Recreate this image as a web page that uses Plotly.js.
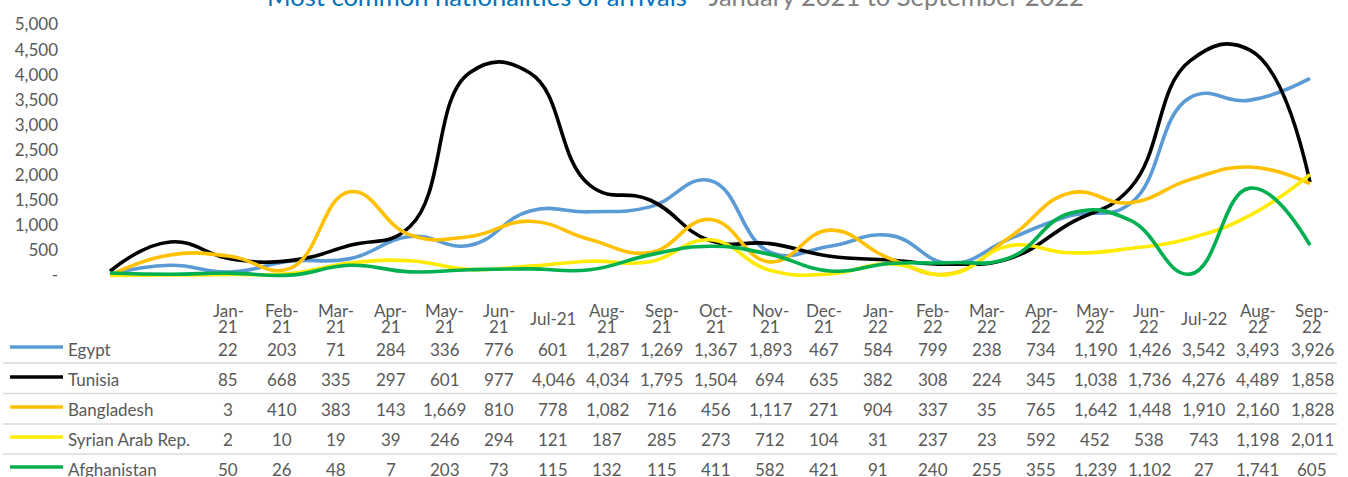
<!DOCTYPE html>
<html><head><meta charset="utf-8">
<script src="https://cdn.plot.ly/plotly-3.0.1.min.js"></script>
<style>html,body{margin:0;padding:0;background:#fff;} #chart{width:1348px;height:477px;}</style>
</head><body><div id="chart"></div>
<script>
const categories = ['Jan-21','Feb-21','Mar-21','Apr-21','May-21','Jun-21','Jul-21','Aug-21','Sep-21','Oct-21','Nov-21','Dec-21','Jan-22','Feb-22','Mar-22','Apr-22','May-22','Jun-22','Jul-22','Aug-22','Sep-22'];
const egypt = [22,203,71,284,336,776,601,1287,1269,1367,1893,467,584,799,238,734,1190,1426,3542,3493,3926];
const tunisia = [85,668,335,297,601,977,4046,4034,1795,1504,694,635,382,308,224,345,1038,1736,4276,4489,1858];
const bangladesh = [3,410,383,143,1669,810,778,1082,716,456,1117,271,904,337,35,765,1642,1448,1910,2160,1828];
const syria = [2,10,19,39,246,294,121,187,285,273,712,104,31,237,23,592,452,538,743,1198,2011];
const afghanistan = [50,26,48,7,203,73,115,132,115,411,582,421,91,240,255,355,1239,1102,27,1741,605];
const seriesNames = ['Egypt','Tunisia','Bangladesh','Syrian Arab Rep.','Afghanistan'];
const seriesValues = [egypt, tunisia, bangladesh, syria, afghanistan];
const seriesColors = ['#5B9BD5','#000000','#FFC000','#FFEB00','#00B050'];
const yTickVals = [0,500,1000,1500,2000,2500,3000,3500,4000,4500,5000];
const yTickText = ['-','500','1,000','1,500','2,000','2,500','3,000','3,500','4,000','4,500','5,000'];
const titleMain = 'Most common nationalities of arrivals';
const titleSub = ' - January 2021 to September 2022';

const W = 1348, H = 477;
const FONT = 'Lato, "Open Sans", sans-serif';
const GREY = '#595959';
const px = p => p / W;
const py = p => 1 - p / H;

// plot geometry (pixels)
const firstPtX = 110, ptStep = 60, plotLeft = 59, plotRight = 1322;
const zeroY = 275.5, perUnit = 50.2 / 1000, plotTop = 20, plotBottom = 283;

const xs = categories.map((c, i) => i);
const traces = seriesValues.map((vals, k) => ({
  type: 'scatter', mode: 'lines', x: xs, y: vals, name: seriesNames[k],
  line: {color: seriesColors[k], width: 3.6, shape: 'spline', smoothing: 1.3},
  hoverinfo: 'skip', showlegend: false
}));

const annotations = [];
const shapes = [];
// title
annotations.push({
  xref: 'paper', yref: 'paper', x: px(675), y: py(13), xanchor: 'center', yanchor: 'bottom',
  showarrow: false,
  text: '<span style="color:#0072BC">' + titleMain + '</span><span style="color:#808080">' + titleSub + '</span>',
  font: {family: FONT, size: 25.5}
});
// table
const colX = i => px(228 + 54.2 * i);
categories.forEach((c, i) => {
  if (c.startsWith('Jul')) {
    annotations.push({xref:'paper', yref:'paper', x: colX(i), y: py(318), xanchor:'center', yanchor:'middle', showarrow:false, text: c, font:{family:FONT, size:17, color:GREY}});
  } else {
    const parts = c.split('-');
    annotations.push({xref:'paper', yref:'paper', x: colX(i), y: py(310), xanchor:'center', yanchor:'middle', showarrow:false, text: parts[0] + '-', font:{family:FONT, size:17, color:GREY}});
    annotations.push({xref:'paper', yref:'paper', x: colX(i), y: py(326), xanchor:'center', yanchor:'middle', showarrow:false, text: parts[1], font:{family:FONT, size:17, color:GREY}});
  }
});
const rowY = [349, 379, 409, 439, 469];
seriesValues.forEach((vals, r) => {
  annotations.push({xref:'paper', yref:'paper', x: px(66), y: py(rowY[r]), xanchor:'left', yanchor:'middle', showarrow:false, text: seriesNames[r], font:{family:FONT, size:17, color:GREY}});
  shapes.push({type:'line', xref:'paper', yref:'paper', x0: px(10), x1: px(63), y0: py(rowY[r]-2), y1: py(rowY[r]-2), line:{color: seriesColors[r], width: 3.6}});
  vals.forEach((v, i) => {
    annotations.push({xref:'paper', yref:'paper', x: colX(i), y: py(rowY[r]), xanchor:'center', yanchor:'middle', showarrow:false, text: v.toLocaleString('en-US'), font:{family:FONT, size:17, color:GREY}});
  });
});
[363, 393.5, 424, 454].forEach(y => {
  shapes.push({type:'line', xref:'paper', yref:'paper', x0: px(3), x1: px(1337), y0: py(y), y1: py(y), line:{color:'#D9D9D9', width:1.5}});
});

const layout = {
  width: W, height: H, margin: {l:0, r:0, t:0, b:0},
  paper_bgcolor: '#fff', plot_bgcolor: 'rgba(0,0,0,0)',
  font: {family: FONT, color: GREY},
  xaxis: {
    domain: [px(plotLeft), px(plotRight)],
    range: [-(firstPtX - plotLeft) / ptStep, (categories.length - 1) + (plotRight - (firstPtX + ptStep * (categories.length - 1))) / ptStep],
    showgrid: false, zeroline: false, showline: false, showticklabels: false, ticks: '', fixedrange: true
  },
  yaxis: {
    domain: [py(plotBottom), py(plotTop)],
    range: [-(plotBottom - zeroY) / perUnit, (zeroY - plotTop) / perUnit],
    tickmode: 'array', tickvals: yTickVals, ticktext: yTickText,
    showgrid: false, zeroline: false, showline: false, ticks: '',
    tickfont: {family: FONT, size: 17, color: GREY}, fixedrange: true
  },
  annotations: annotations,
  shapes: shapes,
  showlegend: false
};
Plotly.newPlot('chart', traces, layout, {displayModeBar: false, staticPlot: true});
</script></body></html>
